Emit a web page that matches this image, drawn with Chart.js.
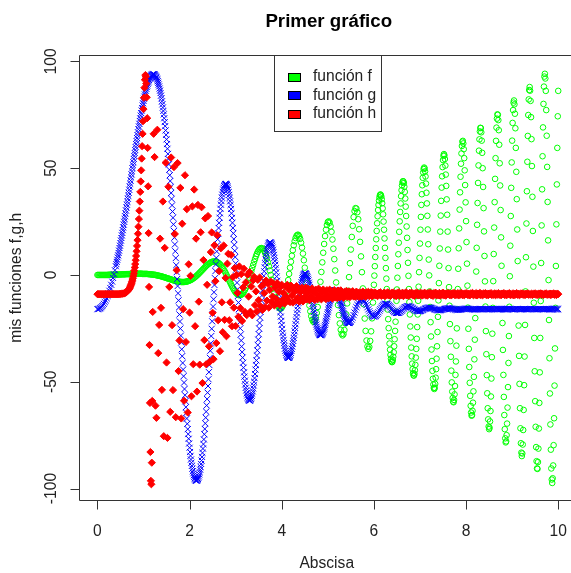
<!DOCTYPE html>
<html>
<head>
<meta charset="utf-8">
<title>Primer gráfico</title>
<script src="https://cdn.jsdelivr.net/npm/chart.js@4.4.1/dist/chart.umd.min.js"></script>
<style>
  html, body { margin: 0; padding: 0; background: #ffffff; }
  #marco { width: 571px; height: 573px; overflow: hidden; position: relative; }
  canvas { display: block; }
</style>
</head>
<body>
<div id="marco"><canvas id="grafico" width="600" height="573"></canvas></div>
<script>
// Abscisa: una muestra cada 0.02
const abscisa = [
  0,0.02,0.04,0.06,0.08,0.1,0.12,0.14,0.16,0.18,0.2,0.22,0.24,0.26,0.28,0.3,0.32,0.34,0.36,0.38,0.4,0.42,0.44,0.46,0.48,
  0.5,0.52,0.54,0.56,0.58,0.6,0.62,0.64,0.66,0.68,0.7,0.72,0.74,0.76,0.78,0.8,0.82,0.84,0.86,0.88,0.9,0.92,0.94,0.96,0.98,
  1,1.02,1.04,1.06,1.08,1.1,1.12,1.14,1.16,1.18,1.2,1.22,1.24,1.26,1.28,1.3,1.32,1.34,1.36,1.38,1.4,1.42,1.44,1.46,1.48,
  1.5,1.52,1.54,1.56,1.58,1.6,1.62,1.64,1.66,1.68,1.7,1.72,1.74,1.76,1.78,1.8,1.82,1.84,1.86,1.88,1.9,1.92,1.94,1.96,1.98,
  2,2.02,2.04,2.06,2.08,2.1,2.12,2.14,2.16,2.18,2.2,2.22,2.24,2.26,2.28,2.3,2.32,2.34,2.36,2.38,2.4,2.42,2.44,2.46,2.48,
  2.5,2.52,2.54,2.56,2.58,2.6,2.62,2.64,2.66,2.68,2.7,2.72,2.74,2.76,2.78,2.8,2.82,2.84,2.86,2.88,2.9,2.92,2.94,2.96,2.98,
  3,3.02,3.04,3.06,3.08,3.1,3.12,3.14,3.16,3.18,3.2,3.22,3.24,3.26,3.28,3.3,3.32,3.34,3.36,3.38,3.4,3.42,3.44,3.46,3.48,
  3.5,3.52,3.54,3.56,3.58,3.6,3.62,3.64,3.66,3.68,3.7,3.72,3.74,3.76,3.78,3.8,3.82,3.84,3.86,3.88,3.9,3.92,3.94,3.96,3.98,
  4,4.02,4.04,4.06,4.08,4.1,4.12,4.14,4.16,4.18,4.2,4.22,4.24,4.26,4.28,4.3,4.32,4.34,4.36,4.38,4.4,4.42,4.44,4.46,4.48,
  4.5,4.52,4.54,4.56,4.58,4.6,4.62,4.64,4.66,4.68,4.7,4.72,4.74,4.76,4.78,4.8,4.82,4.84,4.86,4.88,4.9,4.92,4.94,4.96,4.98,
  5,5.02,5.04,5.06,5.08,5.1,5.12,5.14,5.16,5.18,5.2,5.22,5.24,5.26,5.28,5.3,5.32,5.34,5.36,5.38,5.4,5.42,5.44,5.46,5.48,
  5.5,5.52,5.54,5.56,5.58,5.6,5.62,5.64,5.66,5.68,5.7,5.72,5.74,5.76,5.78,5.8,5.82,5.84,5.86,5.88,5.9,5.92,5.94,5.96,5.98,
  6,6.02,6.04,6.06,6.08,6.1,6.12,6.14,6.16,6.18,6.2,6.22,6.24,6.26,6.28,6.3,6.32,6.34,6.36,6.38,6.4,6.42,6.44,6.46,6.48,
  6.5,6.52,6.54,6.56,6.58,6.6,6.62,6.64,6.66,6.68,6.7,6.72,6.74,6.76,6.78,6.8,6.82,6.84,6.86,6.88,6.9,6.92,6.94,6.96,6.98,
  7,7.02,7.04,7.06,7.08,7.1,7.12,7.14,7.16,7.18,7.2,7.22,7.24,7.26,7.28,7.3,7.32,7.34,7.36,7.38,7.4,7.42,7.44,7.46,7.48,
  7.5,7.52,7.54,7.56,7.58,7.6,7.62,7.64,7.66,7.68,7.7,7.72,7.74,7.76,7.78,7.8,7.82,7.84,7.86,7.88,7.9,7.92,7.94,7.96,7.98,
  8,8.02,8.04,8.06,8.08,8.1,8.12,8.14,8.16,8.18,8.2,8.22,8.24,8.26,8.28,8.3,8.32,8.34,8.36,8.38,8.4,8.42,8.44,8.46,8.48,
  8.5,8.52,8.54,8.56,8.58,8.6,8.62,8.64,8.66,8.68,8.7,8.72,8.74,8.76,8.78,8.8,8.82,8.84,8.86,8.88,8.9,8.92,8.94,8.96,8.98,
  9,9.02,9.04,9.06,9.08,9.1,9.12,9.14,9.16,9.18,9.2,9.22,9.24,9.26,9.28,9.3,9.32,9.34,9.36,9.38,9.4,9.42,9.44,9.46,9.48,
  9.5,9.52,9.54,9.56,9.58,9.6,9.62,9.64,9.66,9.68,9.7,9.72,9.74,9.76,9.78,9.8,9.82,9.84,9.86,9.88,9.9,9.92,9.94,9.96,9.98,
  10
];

// función f (círculos verdes)
const funcionF = [
  0,0,0,0,0,0,0,0,0,0,0,0,0.1,0.1,0.1,0.1,0.1,0.1,0.1,0.1,0.2,0.2,0.2,0.2,0.2,
  0.2,0.3,0.3,0.3,0.3,0.3,0.4,0.4,0.4,0.4,0.4,0.5,0.5,0.5,0.5,0.5,0.5,0.5,0.5,0.6,0.6,0.6,0.6,0.6,0.5,
  0.5,0.5,0.5,0.5,0.5,0.4,0.4,0.3,0.3,0.2,0.2,0.1,0.1,0,-0.1,-0.2,-0.3,-0.4,-0.5,-0.6,-0.7,-0.9,-1,-1.1,-1.3,
  -1.4,-1.6,-1.7,-1.8,-2,-2.1,-2.3,-2.4,-2.6,-2.7,-2.8,-2.9,-3,-3.1,-3.2,-3.2,-3.3,-3.3,-3.3,-3.3,-3.2,-3.2,-3.1,-2.9,-2.8,
  -2.6,-2.4,-2.2,-1.9,-1.6,-1.3,-1,-0.6,-0.2,0.2,0.6,1.1,1.5,2,2.4,2.9,3.3,3.8,4.2,4.6,5,5.3,5.6,5.9,6.1,
  6.2,6.3,6.4,6.3,6.2,6,5.7,5.4,5,4.5,3.9,3.3,2.6,1.8,1,0.1,-0.8,-1.7,-2.6,-3.5,-4.4,-5.3,-6.1,-6.9,-7.6,
  -8.2,-8.7,-9.1,-9.3,-9.5,-9.4,-9.3,-8.9,-8.5,-7.8,-7,-6.1,-5,-3.8,-2.5,-1.2,0.3,1.8,3.3,4.7,6.2,7.5,8.8,9.9,10.9,
  11.6,12.2,12.5,12.6,12.4,12,11.3,10.3,9,7.6,5.9,4.1,2.1,0,-2.2,-4.3,-6.4,-8.4,-10.3,-12,-13.4,-14.5,-15.3,-15.7,-15.7,
  -15.3,-14.5,-13.3,-11.8,-9.8,-7.6,-5.1,-2.4,0.5,3.4,6.2,9,11.6,13.9,15.8,17.3,18.3,18.8,18.8,18.1,16.9,15.1,12.8,10,6.9,
  3.4,-0.2,-3.9,-7.6,-11.1,-14.3,-17,-19.3,-20.9,-21.8,-22,-21.4,-20,-17.8,-15,-11.5,-7.5,-3.2,1.4,5.9,10.4,14.5,18.2,21.2,23.4,
  24.8,25.1,24.5,22.8,20.2,16.6,12.3,7.4,2.1,-3.5,-8.9,-14.1,-18.8,-22.7,-25.7,-27.6,-28.3,-27.7,-25.8,-22.7,-18.5,-13.3,-7.4,-1,5.5,
  11.9,17.8,23,27.1,29.9,31.3,31.1,29.4,26.1,21.4,15.5,8.7,1.3,-6.3,-13.7,-20.4,-26.2,-30.7,-33.5,-34.6,-33.7,-30.9,-26.4,-20.3,-12.9,
  -4.6,4.1,12.6,20.6,27.5,32.8,36.3,37.7,36.8,33.6,28.4,21.2,12.7,3.2,-6.6,-16.2,-24.9,-32.1,-37.4,-40.3,-40.7,-38.3,-33.4,-26.2,-17.2,
  -6.8,4.2,15.1,25.1,33.5,39.7,43.3,43.8,41.3,35.8,27.6,17.4,5.7,-6.6,-18.5,-29.3,-38.1,-44.1,-47,-46.3,-42.1,-34.6,-24.4,-12.1,1.3,
  14.7,27.2,37.8,45.5,49.6,49.9,46.1,38.5,27.7,14.4,-0.2,-15,-28.8,-40.3,-48.6,-52.9,-52.8,-48.1,-39.2,-26.7,-11.9,4.3,20.3,34.7,46.2,
  53.8,56.6,54.3,47,35.4,20.3,3.2,-14.4,-31,-44.8,-54.6,-59.3,-58.5,-52,-40.5,-25,-6.6,12.5,30.6,46,56.9,62.4,61.6,54.7,42.1,
  25.2,5.3,-15.3,-34.6,-50.5,-61.3,-65.9,-63.6,-54.5,-39.5,-20.2,1.6,23.5,43.1,58.2,67.2,68.8,62.9,50,31.3,8.9,-14.8,-37.1,-55.4,-67.6,
  -72.2,-68.6,-56.9,-38.5,-15.4,9.8,34.1,54.7,69,75.2,72.5,61,41.9,17.6,-9.2,-35.1,-57.1,-72.2,-78.4,-75,-62.1,-41.2,-14.9,13.7,40.8,
  62.9,77.2,81.7,75.5,59.5,35.5,6.5,-23.7,-51,-71.8,-83.2,-83.6,-72.6,-51.6,-23.4,8.3,39.2,65.1,82.2,88,81.5,63.6,36.6,3.9,-29.5,
  -59.1,-80.6,-90.6,-87.6,-71.9,-45.6,-12.2,23.2,55.6,80.1,92.9,92,77.2,50.6,16.2,-21.1,-55.5,-81.8,-95.8,-95.2,-79.7,-51.8,-15.4,23.7,59.5,
  86.2
];

// f en las centésimas impares del tramo derecho, donde las muestras son más visibles
const abscisaMediaF = [
  6.01,6.03,6.05,6.07,6.09,6.11,6.13,6.15,6.17,6.19,6.21,6.23,6.25,6.27,6.29,6.31,6.33,6.35,6.37,6.39,6.41,6.43,6.45,6.47,6.49,
  6.51,6.53,6.55,6.57,6.59,6.61,6.63,6.65,6.67,6.69,6.71,6.73,6.75,6.77,6.79,6.81,6.83,6.85,6.87,6.89,6.91,6.93,6.95,6.97,6.99,
  7.01,7.03,7.05,7.07,7.09,7.11,7.13,7.15,7.17,7.19,7.21,7.23,7.25,7.27,7.29,7.31,7.33,7.35,7.37,7.39,7.41,7.43,7.45,7.47,7.49,
  7.51,7.53,7.55,7.57,7.59,7.61,7.63,7.65,7.67,7.69,7.71,7.73,7.75,7.77,7.79,7.81,7.83,7.85,7.87,7.89,7.91,7.93,7.95,7.97,7.99,
  8.01,8.03,8.05,8.07,8.09,8.11,8.13,8.15,8.17,8.19,8.21,8.23,8.25,8.27,8.29,8.31,8.33,8.35,8.37,8.39,8.41,8.43,8.45,8.47,8.49,
  8.51,8.53,8.55,8.57,8.59,8.61,8.63,8.65,8.67,8.69,8.71,8.73,8.75,8.77,8.79,8.81,8.83,8.85,8.87,8.89,8.91,8.93,8.95,8.97,8.99,
  9.01,9.03,9.05,9.07,9.09,9.11,9.13,9.15,9.17,9.19,9.21,9.23,9.25,9.27,9.29,9.31,9.33,9.35,9.37,9.39,9.41,9.43,9.45,9.47,9.49,
  9.51,9.53,9.55,9.57,9.59,9.61,9.63,9.65,9.67,9.69,9.71,9.73,9.75,9.77,9.79,9.81,9.83,9.85,9.87,9.89,9.91,9.93,9.95,9.97,9.99
];
const funcionFMedia = [
  -0.3,8.4,16.7,24.2,30.4,34.8,37.3,37.5,35.5,31.2,25,17.1,8,-1.7,-11.5,-20.7,-28.7,-35,-39.2,-40.8,-39.8,-36.2,-30.1,-21.9,-12.1,
  -1.3,9.7,20.2,29.5,36.9,41.9,43.9,43,38.9,32,22.7,11.7,-0.4,-12.7,-24.1,-34,-41.5,-46,-47.1,-44.6,-38.7,-29.9,-18.5,-5.5,8,
  21.2,32.8,42,48,50.3,48.5,42.8,33.5,21.3,7.2,-7.7,-22.1,-34.9,-44.9,-51.3,-53.4,-51,-44.1,-33.4,-19.6,-3.8,12.4,27.8,40.9,50.5,
  55.8,56,51.2,41.7,28.2,11.9,-5.7,-23,-38.3,-50.3,-57.6,-59.6,-55.9,-46.8,-33.1,-16,2.9,21.8,38.7,52.1,60.4,62.8,58.9,49,34,
  15.4,-5,-25.2,-43.1,-56.6,-64.4,-65.6,-59.8,-47.7,-30.3,-9.4,12.7,33.7,51.3,63.5,68.9,66.8,57.2,41.2,20.4,-3,-26.3,-46.9,-62.4,-71,
  -71.5,-63.7,-48.5,-27.5,-2.9,22.2,45,62.8,73.2,75,67.8,52.3,30.4,4.3,-22.5,-46.8,-65.6,-76.5,-77.9,-69.6,-52.5,-28.6,-0.6,27.6,52.7,
  71.2,80.7,79.9,68.7,48.3,21.3,-8.7,-37.9,-62.4,-78.8,-84.8,-79.4,-63.2,-38.2,-7.7,24.1,53,74.9,86.6,86.3,73.9,51,20.6,-13,-45.1,
  -71.1,-87.2,-90.8,-81.3,-59.9,-29.5,5.6,40.1,69.1,88.2,94.2,86.2,65.2,34.2,-2.4,-39,-70,-90.6,-97.4,-89.2,-67.1,-34.4,4.2,42.4,74.3
];

// función g (aspas azules)
const funcionG = [
  -16,-16,-15.8,-15.5,-15.2,-14.7,-14.2,-13.5,-12.7,-11.9,-10.9,-9.8,-8.7,-7.4,-6.1,-4.6,-3.1,-1.4,0.3,2.2,4.1,6.1,8.2,10.3,12.6,
  14.9,17.3,19.7,22.3,24.9,27.5,30.2,32.9,35.7,38.5,41.4,44.2,47.1,50,52.8,55.7,58.5,61.3,64.1,66.8,69.5,72.1,74.6,77,79.3,
  81.5,83.5,85.4,87.2,88.7,90.1,91.3,92.3,93.1,93.6,93.9,93.9,93.7,93.2,92.4,91.3,90,88.3,86.3,84,81.3,78.4,75.2,71.6,67.7,
  63.5,59.1,54.3,49.3,44,38.4,32.6,26.8,20.6,14.3,7.9,1.3,-5.2,-11.9,-18.5,-25.1,-31.6,-38,-44.3,-50.4,-56.3,-61.9,-67.2,-72.2,-76.7,
  -80.9,-84.7,-87.9,-90.7,-92.9,-94.6,-95.7,-96.3,-96.2,-95.5,-94.3,-92.4,-89.9,-86.9,-83.3,-79.2,-74.6,-69.5,-64,-58.1,-52,-45.5,-38.8,-32,-25.2,
  -18.3,-11.4,-4.7,1.8,8,13.9,19.4,24.4,28.9,32.9,36.2,38.9,40.8,42.1,42.6,42.4,41.5,39.9,37.5,34.5,30.9,26.7,22,16.8,11.3,
  5.4,-0.6,-6.7,-12.9,-19.1,-25,-30.7,-36.1,-41.1,-45.6,-49.5,-52.8,-55.4,-57.3,-58.4,-58.8,-58.5,-57.4,-55.6,-53.1,-50,-46.4,-42.2,-37.7,-32.8,
  -27.7,-22.5,-17.3,-12.1,-7.2,-2.6,1.7,5.5,8.7,11.4,13.4,14.7,15.2,15.1,14.3,12.8,10.7,8,4.8,1.2,-2.7,-6.8,-11,-15.3,-19.5,
  -23.4,-27.1,-30.4,-33.2,-35.5,-37.3,-38.4,-38.8,-38.7,-37.9,-36.5,-34.6,-32.2,-29.5,-26.4,-23.1,-19.7,-16.3,-13,-9.8,-7,-4.5,-2.4,-0.9,0.2,
  0.7,0.6,0,-1.1,-2.6,-4.6,-6.9,-9.4,-12,-14.7,-17.4,-19.9,-22.2,-24.2,-25.9,-27.1,-27.9,-28.2,-28,-27.5,-26.5,-25.1,-23.4,-21.5,-19.5,
  -17.4,-15.3,-13.3,-11.5,-10,-8.7,-7.8,-7.2,-7.1,-7.3,-7.9,-8.8,-10,-11.4,-13,-14.6,-16.2,-17.8,-19.2,-20.4,-21.4,-22.1,-22.4,-22.5,-22.2,
  -21.7,-20.9,-19.9,-18.8,-17.6,-16.3,-15.1,-14,-13,-12.2,-11.6,-11.3,-11.3,-11.4,-11.9,-12.5,-13.3,-14.1,-15.1,-16.1,-17,-17.8,-18.5,-19,-19.3,
  -19.5,-19.4,-19.1,-18.7,-18.1,-17.5,-16.7,-16,-15.3,-14.7,-14.2,-13.8,-13.5,-13.5,-13.6,-13.8,-14.2,-14.6,-15.1,-15.7,-16.3,-16.8,-17.2,-17.5,-17.8,
  -17.8,-17.8,-17.7,-17.4,-17.1,-16.7,-16.3,-15.8,-15.4,-15.1,-14.9,-14.7,-14.7,-14.7,-14.8,-15,-15.3,-15.6,-15.9,-16.2,-16.5,-16.7,-16.9,-17,-17,
  -16.9,-16.8,-16.6,-16.4,-16.1,-15.9,-15.7,-15.5,-15.4,-15.3,-15.3,-15.3,-15.4,-15.6,-15.7,-15.9,-16.1,-16.3,-16.4,-16.5,-16.5,-16.5,-16.5,-16.4,-16.3,
  -16.2,-16,-15.9,-15.8,-15.7,-15.6,-15.6,-15.6,-15.7,-15.8,-15.9,-16,-16.1,-16.2,-16.2,-16.3,-16.3,-16.3,-16.2,-16.2,-16.1,-16,-15.9,-15.9,-15.8,
  -15.8,-15.8,-15.8,-15.9,-15.9,-16,-16,-16.1,-16.1,-16.2,-16.2,-16.1,-16.1,-16,-16,-15.9,-15.9,-15.9,-16,-16,-16,-16,-16.1,-16.1,-16.1,
  -16.1,-16,-16,-15.9,-15.9,-15.9,-16,-16,-16,-16.1,-16.1,-16,-16,-15.9,-15.9,-16,-16,-16,-16.1,-16.1,-16,-16,-15.9,-15.9,-16,
  -16,-16,-16.1,-16,-16,-15.9,-16,-16,-16,-16.1,-16,-16,-16,-15.9,-16,-16,-16,-16.1,-16,-16,-16,-15.9,-16,-16,-16,
  -16,-16,-16.1,-16,-16,-15.9,-16,-16,-16,-16.1,-16,-16,-16,-15.9,-16,-16,-16,-16.1,-16,-16,-16,-15.9,-16,-16,-16,
  -16
];

// g en las centésimas impares del tramo oscilante
const abscisaMediaG = [
  0.41,0.43,0.45,0.47,0.49,0.51,0.53,0.55,0.57,0.59,0.61,0.63,0.65,0.67,0.69,0.71,0.73,0.75,0.77,0.79,0.81,0.83,0.85,0.87,0.89,
  0.91,0.93,0.95,0.97,0.99,1.01,1.03,1.05,1.07,1.09,1.11,1.13,1.15,1.17,1.19,1.21,1.23,1.25,1.27,1.29,1.31,1.33,1.35,1.37,1.39,
  1.41,1.43,1.45,1.47,1.49,1.51,1.53,1.55,1.57,1.59,1.61,1.63,1.65,1.67,1.69,1.71,1.73,1.75,1.77,1.79,1.81,1.83,1.85,1.87,1.89,
  1.91,1.93,1.95,1.97,1.99,2.01,2.03,2.05,2.07,2.09,2.11,2.13,2.15,2.17,2.19,2.21,2.23,2.25,2.27,2.29,2.31,2.33,2.35,2.37,2.39,
  2.41,2.43,2.45,2.47,2.49,2.51,2.53,2.55,2.57,2.59,2.61,2.63,2.65,2.67,2.69,2.71,2.73,2.75,2.77,2.79,2.81,2.83,2.85,2.87,2.89,
  2.91,2.93,2.95,2.97,2.99,3.01,3.03,3.05,3.07,3.09,3.11,3.13,3.15,3.17,3.19,3.21,3.23,3.25,3.27,3.29,3.31,3.33,3.35,3.37,3.39,
  3.41,3.43,3.45,3.47,3.49,3.51,3.53,3.55,3.57,3.59,3.61,3.63,3.65,3.67,3.69,3.71,3.73,3.75,3.77,3.79,3.81,3.83,3.85,3.87,3.89,
  3.91,3.93,3.95,3.97,3.99,4.01,4.03,4.05,4.07,4.09,4.11,4.13,4.15,4.17,4.19,4.21,4.23,4.25,4.27,4.29,4.31,4.33,4.35,4.37,4.39,
  4.41,4.43,4.45,4.47,4.49,4.51,4.53,4.55,4.57,4.59,4.61,4.63,4.65,4.67,4.69,4.71,4.73,4.75,4.77,4.79,4.81,4.83,4.85,4.87,4.89,
  4.91,4.93,4.95,4.97,4.99,5.01,5.03,5.05,5.07,5.09,5.11,5.13,5.15,5.17,5.19,5.21,5.23,5.25,5.27,5.29,5.31,5.33,5.35,5.37,5.39,
  5.41,5.43,5.45,5.47,5.49
];
const funcionGMedia = [
  5.1,7.1,9.2,11.4,13.7,16.1,18.5,21,23.6,26.2,28.8,31.6,34.3,37.1,39.9,42.8,45.7,48.5,51.4,54.3,57.1,59.9,62.7,65.5,68.2,
  70.8,73.3,75.8,78.1,80.4,82.5,84.5,86.3,88,89.5,90.7,91.8,92.7,93.4,93.8,93.9,93.9,93.5,92.8,91.9,90.7,89.2,87.3,85.2,82.7,
  79.9,76.8,73.4,69.7,65.6,61.3,56.7,51.8,46.7,41.2,35.6,29.7,23.7,17.5,11.1,4.6,-1.9,-8.6,-15.2,-21.8,-28.4,-34.8,-41.2,-47.4,-53.4,
  -59.1,-64.6,-69.7,-74.5,-78.9,-82.9,-86.4,-89.4,-91.9,-93.8,-95.2,-96.1,-96.3,-95.9,-95,-93.4,-91.2,-88.5,-85.2,-81.3,-77,-72.1,-66.8,-61.1,-55.1,
  -48.8,-42.2,-35.5,-28.6,-21.7,-14.8,-8.1,-1.5,4.9,11,16.7,22,26.8,31,34.6,37.6,40,41.6,42.5,42.7,42.1,40.8,38.8,36.1,32.8,
  28.9,24.4,19.5,14.1,8.4,2.5,-3.6,-9.8,-16,-22.1,-27.9,-33.5,-38.7,-43.4,-47.6,-51.2,-54.1,-56.4,-57.9,-58.7,-58.8,-58,-56.6,-54.5,-51.7,
  -48.3,-44.3,-40,-35.3,-30.3,-25.1,-19.9,-14.7,-9.6,-4.8,-0.4,3.6,7.2,10.1,12.4,14.1,15,15.3,14.8,13.7,11.8,9.4,6.5,3.1,-0.7,
  -4.7,-8.9,-13.2,-17.4,-21.5,-25.3,-28.8,-31.9,-34.5,-36.5,-37.9,-38.7,-38.8,-38.4,-37.3,-35.6,-33.5,-30.9,-28,-24.8,-21.4,-18,-14.6,-11.4,-8.4,
  -5.7,-3.4,-1.6,-0.3,0.5,0.7,0.4,-0.5,-1.8,-3.6,-5.7,-8.1,-10.7,-13.4,-16.1,-18.7,-21.1,-23.2,-25.1,-26.5,-27.5,-28.1,-28.2,-27.8,-27,
  -25.8,-24.3,-22.5,-20.5,-18.4,-16.3,-14.3,-12.4,-10.7,-9.3,-8.2,-7.5,-7.1,-7.2,-7.6,-8.3,-9.4,-10.7,-12.2,-13.8,-15.4,-17,-18.5,-19.8,-20.9,
  -21.8,-22.3,-22.5,-22.4,-22
];

// función h (rombos rojos)
const funcionH = [
  -9,-9,-9,-9,-9,-9,-9,-9,-9,-9,-9,-9,-9,-9,-9,-9,-9,-9,-9,-9,-9,-9,-9,-9,-8.9,
  -8.9,-8.8,-8.8,-8.7,-8.6,-8.4,-8.1,-7.8,-7.4,-6.8,-6.1,-5.1,-3.9,-2.4,-0.4,2,5.1,8.9,13.6,19.3,26.2,34.4,43.8,54.5,66.1,
  77.7,87.7,93.6,89.6,73.4,41.5,-5.6,-59.9,-96.4,-87.9,-17.3,66.1,55.2,-61.2,-66.9,68,-36.6,-23.4,17,-15.4,-53.8,34.4,-75.5,12.7,52.6,
  -41,-76.3,41.3,-5.6,-64.1,55,-23.5,-53.9,50.5,19.2,-66.6,2.2,52.4,-45,-30.7,40.8,-67.2,24,-16,-58.9,46.7,-31.4,30.8,-64.4,5,
  -17.6,-0.4,-56.8,32.1,-41.8,40,-24,17,-54.6,32.8,-12.5,-42,20,31.7,-50.6,7,-30.5,26.5,-41.8,-4.6,27.6,-33.4,-40.6,10.7,19.9,
  -17.7,-39.4,13.9,-2.9,-31.9,18.6,-21.2,1.8,-35.7,12.5,-12.8,-26.8,13.8,-21,-1.4,-28.7,5.3,9.9,-21.2,-12.8,9.4,-24,-1,-15.3,3.2,
  -23.9,0,-8.4,-19.6,4,-15.5,0.4,-21.5,-5.9,2.9,-17.3,-3.5,-18.8,0.1,-10.1,1.3,-17.2,-5.4,-18.9,-2.5,-0.9,-14.1,-7.7,-17,-2.3,
  -11.8,-1.2,-14.7,-5.3,-16.4,-4.5,-8.5,-15,-2.6,-12,-4.1,-15.3,-7,-3.1,-12.7,-10.1,-4,-14.3,-5.9,-11.2,-3.8,-13.3,-7.9,-14,-5.5,
  -4.6,-11.7,-8.4,-13.4,-5.4,-10.3,-4.6,-12.1,-7,-12.7,-5,-9.6,-12.9,-6.5,-7.8,-12,-5.2,-10.8,-6.4,-12.5,-8.1,-11.1,-6,-12.4,-7.3,
  -10.1,-5.9,-11.5,-8.7,-6.5,-11.8,-7.3,-10.2,-6.3,-11,-8.1,-11.7,-6.9,-9.2,-11.3,-6.4,-10.3,-7.3,-11.4,-8.3,-6.8,-10.6,-7.9,-11.3,-7.1,
  -9.4,-10.9,-6.9,-9.8,-7.7,-11.1,-8.7,-7.1,-10.5,-8,-10.8,-7.3,-9.5,-10.5,-7.2,-10,-8.4,-10.7,-7.9,-9.7,-7.5,-10.3,-8.9,-7.7,-10.4,
  -8.1,-9.5,-7.6,-10.1,-8.7,-10.2,-7.8,-9.7,-8.4,-10.3,-8.1,-9.2,-10.1,-7.8,-9.7,-8.5,-10.2,-8.1,-9.4,-7.9,-9.9,-8.9,-8,-10,-8.4,
  -9.5,
  -8.2,-9.6,-8.7,-9.9,-8.5,-9.2,-8.1,-9.8,-8.9,-9.5,-8.3,-9.9,-8.6,-9.3,-8.1,-9.6,-8.8,-9.8,-8.4,-9.1,
  -8.2,-9.6,-8.7,-9.9,-8.5,-9.2,-8.1,-9.8,-8.9,-9.5,-8.3,-9.9,-8.6,-9.3,-8.1,-9.6,-8.8,-9.8,-8.4,-9.1,
  -8.3,-9.5,-8.8,-9.8,-8.5,-9.2,-8.3,-9.6,-8.9,-9.4,-8.4,-9.7,-8.7,-9.3,-8.3,-9.5,-8.8,-9.7,-8.5,-9.1,
  -8.3,-9.5,-8.8,-9.8,-8.5,-9.2,-8.3,-9.6,-8.9,-9.4,-8.4,-9.7,-8.7,-9.3,-8.3,-9.5,-8.8,-9.7,-8.5,-9.1,
  -8.5,-9.4,-8.8,-9.6,-8.6,-9.1,-8.4,-9.5,-8.9,-9.3,-8.5,-9.6,-8.7,-9.2,-8.4,-9.4,-8.9,-9.5,-8.6,-9.1,
  -8.5,-9.4,-8.8,-9.6,-8.6,-9.1,-8.4,-9.5,-8.9,-9.3,-8.5,-9.6,-8.7,-9.2,-8.4,-9.4,-8.9,-9.5,-8.6,-9.1,
  -8.5,-9.4,-8.8,-9.5,-8.7,-9.1,-8.5,-9.4,-9,-9.3,-8.6,-9.5,-8.8,-9.2,-8.5,-9.3,-8.9,-9.5,-8.7,-9.1,
  -8.5,-9.4,-8.8,-9.5,-8.7,-9.1,-8.5,-9.4,-9,-9.3,-8.6,-9.5,-8.8,-9.2,-8.5,-9.3,-8.9,-9.5,-8.7,-9.1,
  -8.6,-9.3,-8.9,-9.4,-8.8,-9.1,-8.6,-9.3,-9,-9.2,-8.7,-9.4,-8.8,-9.1,-8.6,-9.3,-8.9,-9.4,-8.7,-9,
  -8.6,-9.3,-8.9,-9.4,-8.8,-9.1,-8.6,-9.3,-9,-9.2,-8.7,-9.4,-8.8,-9.1,-8.6,-9.3,-8.9,-9.4,-8.7,-9
];

// h en las centésimas impares de la subida
const abscisaMediaH = [
  0.61,0.63,0.65,0.67,0.69,0.71,0.73,0.75,0.77,0.79,0.81,0.83,0.85,0.87,0.89,
  0.91,0.93,0.95,0.97,0.99,1.01,1.03,1.05,1.07,1.09,1.11,1.13,1.15,1.17,1.19
];
const funcionHMedia = [
  -8.3,-8,-7.6,-7.1,-6.5,-5.6,-4.6,-3.2,-1.5,0.7,3.5,6.9,11.1,16.3,22.6,
  30.1,38.9,49,60.3,72,83,91.4,92.8,83.2,59.5,19.6,-32.8,-82.9,-98,-59
];

const xTicks = [0, 2, 4, 6, 8, 10];
const yTicks = [-100, -50, 0, 50, 100];
const etiquetas = ['función f', 'función g', 'función h'];
const colores = ['#00FF00', '#0000FF', '#FF0000'];
const titulo = 'Primer gráfico';
const tituloX = 'Abscisa';
const tituloY = 'mis funciones f,g,h';

const fuente = "'Liberation Sans', Arial, Helvetica, sans-serif";

function puntos(xs, ys) {
    return xs.map((x, i) => ({ x: x, y: ys[i] }));
}

// Ejes, caja, títulos y leyenda al estilo de R
const estiloR = {
    id: 'estiloR',
    afterDraw(chart) {
        const ctx = chart.ctx;
        const a = chart.chartArea;
        const sx = chart.scales.x;
        const sy = chart.scales.y;
        const izq = Math.round(a.left) + 0.5;
        const arr = Math.round(a.top) + 0.5;
        const abj = Math.round(a.bottom) - 0.5;

        ctx.save();
        ctx.strokeStyle = '#333333';
        ctx.lineWidth = 1;

        // caja del gráfico
        ctx.beginPath();
        ctx.moveTo(a.right + 2, arr);
        ctx.lineTo(izq, arr);
        ctx.lineTo(izq, abj);
        ctx.lineTo(a.right + 2, abj);
        ctx.stroke();

        // eje x
        ctx.fillStyle = '#222222';
        ctx.font = '15.6px ' + fuente;
        ctx.textAlign = 'center';
        ctx.textBaseline = 'middle';
        ctx.beginPath();
        xTicks.forEach(v => {
            const px = Math.round(sx.getPixelForValue(v)) + 0.5;
            ctx.moveTo(px, abj);
            ctx.lineTo(px, abj + 9);
        });
        ctx.stroke();
        xTicks.forEach(v => {
            ctx.fillText(String(v), sx.getPixelForValue(v), 532);
        });

        // eje y (etiquetas verticales)
        ctx.beginPath();
        yTicks.forEach(v => {
            const py = Math.round(sy.getPixelForValue(v)) + 0.5;
            ctx.moveTo(izq, py);
            ctx.lineTo(izq - 9, py);
        });
        ctx.stroke();
        yTicks.forEach(v => {
            ctx.save();
            ctx.translate(52, sy.getPixelForValue(v));
            ctx.rotate(-Math.PI / 2);
            ctx.fillText(String(v), 0, 0);
            ctx.restore();
        });

        // títulos de ejes
        const cx = (a.left + a.right) / 2;
        const cy = (a.top + a.bottom) / 2;
        ctx.fillText(tituloX, cx - 2, 564);
        ctx.save();
        ctx.translate(17, cy);
        ctx.rotate(-Math.PI / 2);
        ctx.fillText(tituloY, 0, 0);
        ctx.restore();

        // título principal
        ctx.fillStyle = '#000000';
        ctx.font = 'bold 18.7px ' + fuente;
        ctx.fillText(titulo, cx, 22);

        // leyenda arriba al centro
        ctx.fillStyle = '#ffffff';
        ctx.fillRect(274.5, 55.5, 107, 76);
        ctx.strokeStyle = '#333333';
        ctx.strokeRect(274.5, 55.5, 107, 76);
        ctx.font = '15.6px ' + fuente;
        ctx.textAlign = 'left';
        etiquetas.forEach((txt, i) => {
            const yc = 77 + i * 18.4;
            ctx.fillStyle = colores[i];
            ctx.fillRect(288.5, Math.round(yc - 4) + 0.5, 12, 8);
            ctx.strokeStyle = '#000000';
            ctx.strokeRect(288.5, Math.round(yc - 4) + 0.5, 12, 8);
            ctx.fillStyle = '#222222';
            ctx.fillText(txt, 313, yc);
        });
        ctx.restore();
    }
};

const ctx = document.getElementById('grafico').getContext('2d');
const chart = new Chart(ctx, {
    type: 'scatter',
    data: {
        datasets: [
            {
                label: etiquetas[0],
                data: puntos(abscisa, funcionF).concat(puntos(abscisaMediaF, funcionFMedia)),
                pointStyle: 'circle',
                pointRadius: 2.8,
                borderWidth: 1,
                borderColor: colores[0],
                backgroundColor: 'rgba(0,0,0,0)',
                order: 3
            },
            {
                label: etiquetas[1],
                data: puntos(abscisa, funcionG).concat(puntos(abscisaMediaG, funcionGMedia)),
                pointStyle: 'crossRot',
                pointRadius: 4.3,
                borderWidth: 1,
                borderColor: colores[1],
                backgroundColor: colores[1],
                order: 2
            },
            {
                label: etiquetas[2],
                data: puntos(abscisa, funcionH).concat(puntos(abscisaMediaH, funcionHMedia)),
                pointStyle: 'rectRot',
                pointRadius: 3.6,
                borderWidth: 1,
                borderColor: colores[2],
                backgroundColor: colores[2],
                order: 1
            }
        ]
    },
    options: {
        responsive: false,
        maintainAspectRatio: false,
        devicePixelRatio: 1,
        animation: false,
        events: [],
        layout: {
            padding: { left: 79, top: 55, right: 21.5, bottom: 72.3 }
        },
        plugins: {
            legend: { display: false },
            tooltip: { enabled: false },
            title: { display: false }
        },
        scales: {
            x: { type: 'linear', min: -0.4, max: 10.44, display: false },
            y: { type: 'linear', min: -105.7, max: 103, display: false }
        }
    },
    plugins: [estiloR]
});
</script>
</body>
</html>
